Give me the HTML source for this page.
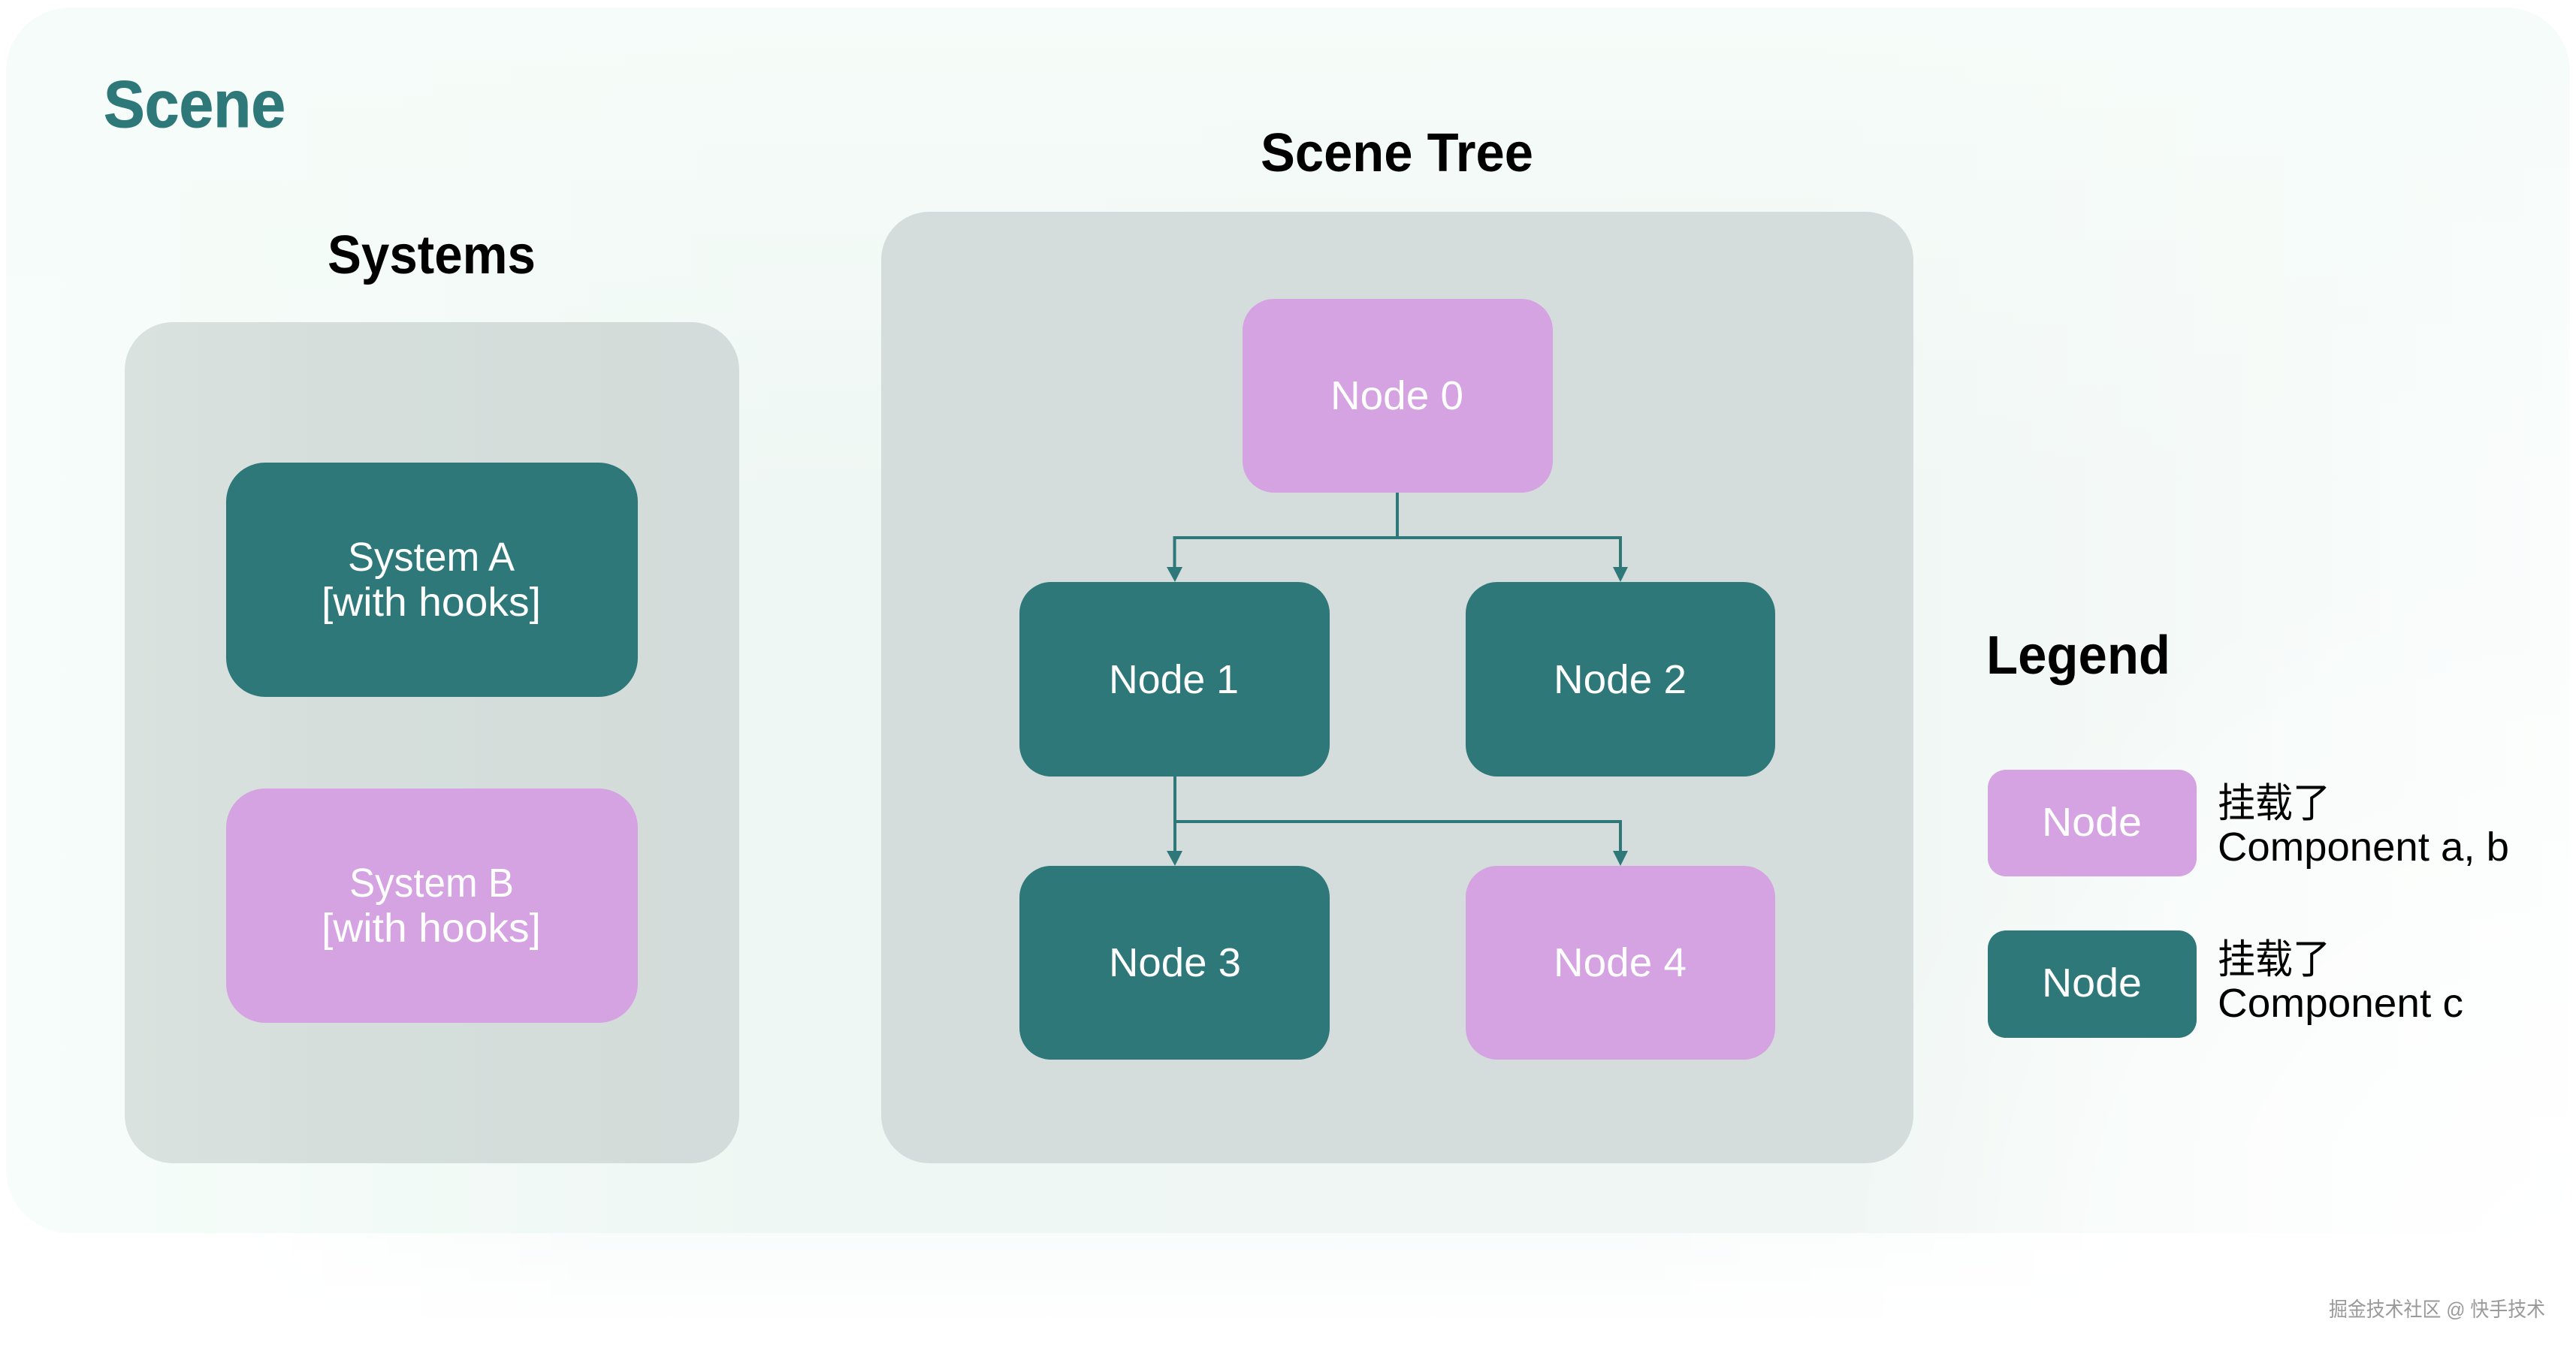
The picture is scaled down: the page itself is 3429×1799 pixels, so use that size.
<!DOCTYPE html>
<html><head><meta charset="utf-8"><style>
html,body{margin:0;padding:0;background:#fff;width:3429px;height:1799px;overflow:hidden}
svg{display:block}
text{font-family:"Liberation Sans","Noto Sans CJK SC",sans-serif}
.w{fill:#fff;font-size:54px}
.b{font-weight:700;fill:#000;font-size:72px}
.k{fill:#000;font-size:54px}
</style></head><body>
<svg width="3429" height="1799" viewBox="0 0 3429 1799" xmlns="http://www.w3.org/2000/svg">
<defs>
<linearGradient id="bg" x1="0" y1="0" x2="1" y2="0">
<stop offset="0" stop-color="#f6fdfa"/><stop offset="0.3" stop-color="#eff7f4"/><stop offset="0.7" stop-color="#eff6f3"/><stop offset="1" stop-color="#fafdfc"/>
</linearGradient>
<linearGradient id="top" x1="0" y1="0" x2="0" y2="1">
<stop offset="0" stop-color="#f6fcf9" stop-opacity="1"/><stop offset="0.4" stop-color="#f6fcf9" stop-opacity="0"/>
</linearGradient>
<radialGradient id="br" gradientUnits="userSpaceOnUse" cx="3429" cy="1700" r="1000">
<stop offset="0" stop-color="#fff" stop-opacity="1"/><stop offset="0.55" stop-color="#fff" stop-opacity=".55"/><stop offset="1" stop-color="#fff" stop-opacity="0"/>
</radialGradient>
<linearGradient id="fade" x1="0" y1="0" x2="0" y2="1">
<stop offset="0" stop-color="#f8fcfb"/><stop offset="1" stop-color="#fff"/>
</linearGradient>
<linearGradient id="fadeX" x1="0" y1="0" x2="1" y2="0">
<stop offset="0" stop-color="#000"/><stop offset=".2" stop-color="#fff"/><stop offset=".7" stop-color="#fff"/><stop offset="1" stop-color="#000"/>
</linearGradient>
<mask id="m"><rect x="300" y="1640" width="2600" height="130" fill="url(#fadeX)"/></mask>
<linearGradient id="panel" x1="0" y1="0" x2="1" y2="0">
<stop offset="0" stop-color="#dae2df"/><stop offset="0.35" stop-color="#d5dedb"/><stop offset="1" stop-color="#d3dcda"/>
</linearGradient>
</defs>
<rect x="300" y="1640" width="2600" height="130" fill="url(#fade)" mask="url(#m)"/>
<rect x="8" y="10" width="3413" height="1632" rx="85" ry="85" fill="url(#bg)"/>
<rect x="8" y="10" width="3413" height="1632" rx="85" ry="85" fill="url(#top)"/>
<rect x="8" y="10" width="3413" height="1632" rx="85" ry="85" fill="url(#br)"/>

<text x="138" y="169" font-size="88" font-weight="700" fill="#2e787a" stroke="#2e787a" stroke-width="1" textLength="242" lengthAdjust="spacingAndGlyphs">Scene</text>
<text class="b" x="436" y="364" textLength="277" lengthAdjust="spacingAndGlyphs">Systems</text>
<text class="b" x="1678" y="228" textLength="363" lengthAdjust="spacingAndGlyphs">Scene Tree</text>
<text class="b" x="2644" y="897" textLength="245" lengthAdjust="spacingAndGlyphs">Legend</text>

<rect x="166" y="429" width="818" height="1120" rx="64" fill="url(#panel)"/>
<rect x="1173" y="282" width="1374" height="1267" rx="64" fill="#d4dddb"/>

<rect x="301" y="616" width="548" height="312" rx="52" fill="#2e787a"/>
<text class="w" x="463" y="760" textLength="222" lengthAdjust="spacingAndGlyphs">System A</text>
<text class="w" x="428" y="820" textLength="292" lengthAdjust="spacingAndGlyphs">[with hooks]</text>
<rect x="301" y="1050" width="548" height="312" rx="52" fill="#d5a2e2"/>
<text class="w" x="465" y="1194" textLength="219" lengthAdjust="spacingAndGlyphs">System B</text>
<text class="w" x="428" y="1254" textLength="292" lengthAdjust="spacingAndGlyphs">[with hooks]</text>

<g fill="none" stroke="#2e787a" stroke-width="4">
<path d="M1860 656V716M1563.5 758V716H2157V758"/>
<path d="M1564 1034V1136M1564 1094H2157V1136"/>
</g>
<g fill="#2e787a">
<path d="M1553 755L1564 775L1574 755ZM2147 755L2157 775L2167 755Z"/>
<path d="M1553 1133L1564 1153L1574 1133ZM2147 1133L2157 1153L2167 1133Z"/>
</g>

<rect x="1654" y="398" width="413" height="258" rx="42" fill="#d5a2e2"/>
<text class="w" x="1771" y="545" textLength="177" lengthAdjust="spacingAndGlyphs">Node 0</text>
<rect x="1357" y="775" width="413" height="259" rx="42" fill="#2e787a"/>
<text class="w" x="1476" y="923" textLength="173" lengthAdjust="spacingAndGlyphs">Node 1</text>
<rect x="1951" y="775" width="412" height="259" rx="42" fill="#2e787a"/>
<text class="w" x="2068" y="923" textLength="177" lengthAdjust="spacingAndGlyphs">Node 2</text>
<rect x="1357" y="1153" width="413" height="258" rx="42" fill="#2e787a"/>
<text class="w" x="1476" y="1300" textLength="176" lengthAdjust="spacingAndGlyphs">Node 3</text>
<rect x="1951" y="1153" width="412" height="258" rx="42" fill="#d5a2e2"/>
<text class="w" x="2068" y="1300" textLength="177" lengthAdjust="spacingAndGlyphs">Node 4</text>

<rect x="2646" y="1025" width="278" height="142" rx="24" fill="#d5a2e2"/>
<text class="w" x="2718" y="1113" textLength="133" lengthAdjust="spacingAndGlyphs">Node</text>
<rect x="2646" y="1239" width="278" height="143" rx="24" fill="#2e787a"/>
<text class="w" x="2718" y="1327" textLength="133" lengthAdjust="spacingAndGlyphs">Node</text>

<text class="k" x="2952" y="1088" textLength="150" lengthAdjust="spacingAndGlyphs">挂载了</text>
<text class="k" x="2952" y="1146" textLength="388" lengthAdjust="spacingAndGlyphs">Component a, b</text>
<text class="k" x="2952" y="1296" textLength="150" lengthAdjust="spacingAndGlyphs">挂载了</text>
<text class="k" x="2952" y="1354" textLength="327" lengthAdjust="spacingAndGlyphs">Component c</text>

<text x="3100" y="1753" font-size="27" fill="#9a9a9a" textLength="288" lengthAdjust="spacingAndGlyphs">掘金技术社区 @ 快手技术</text>
</svg>
</body></html>
